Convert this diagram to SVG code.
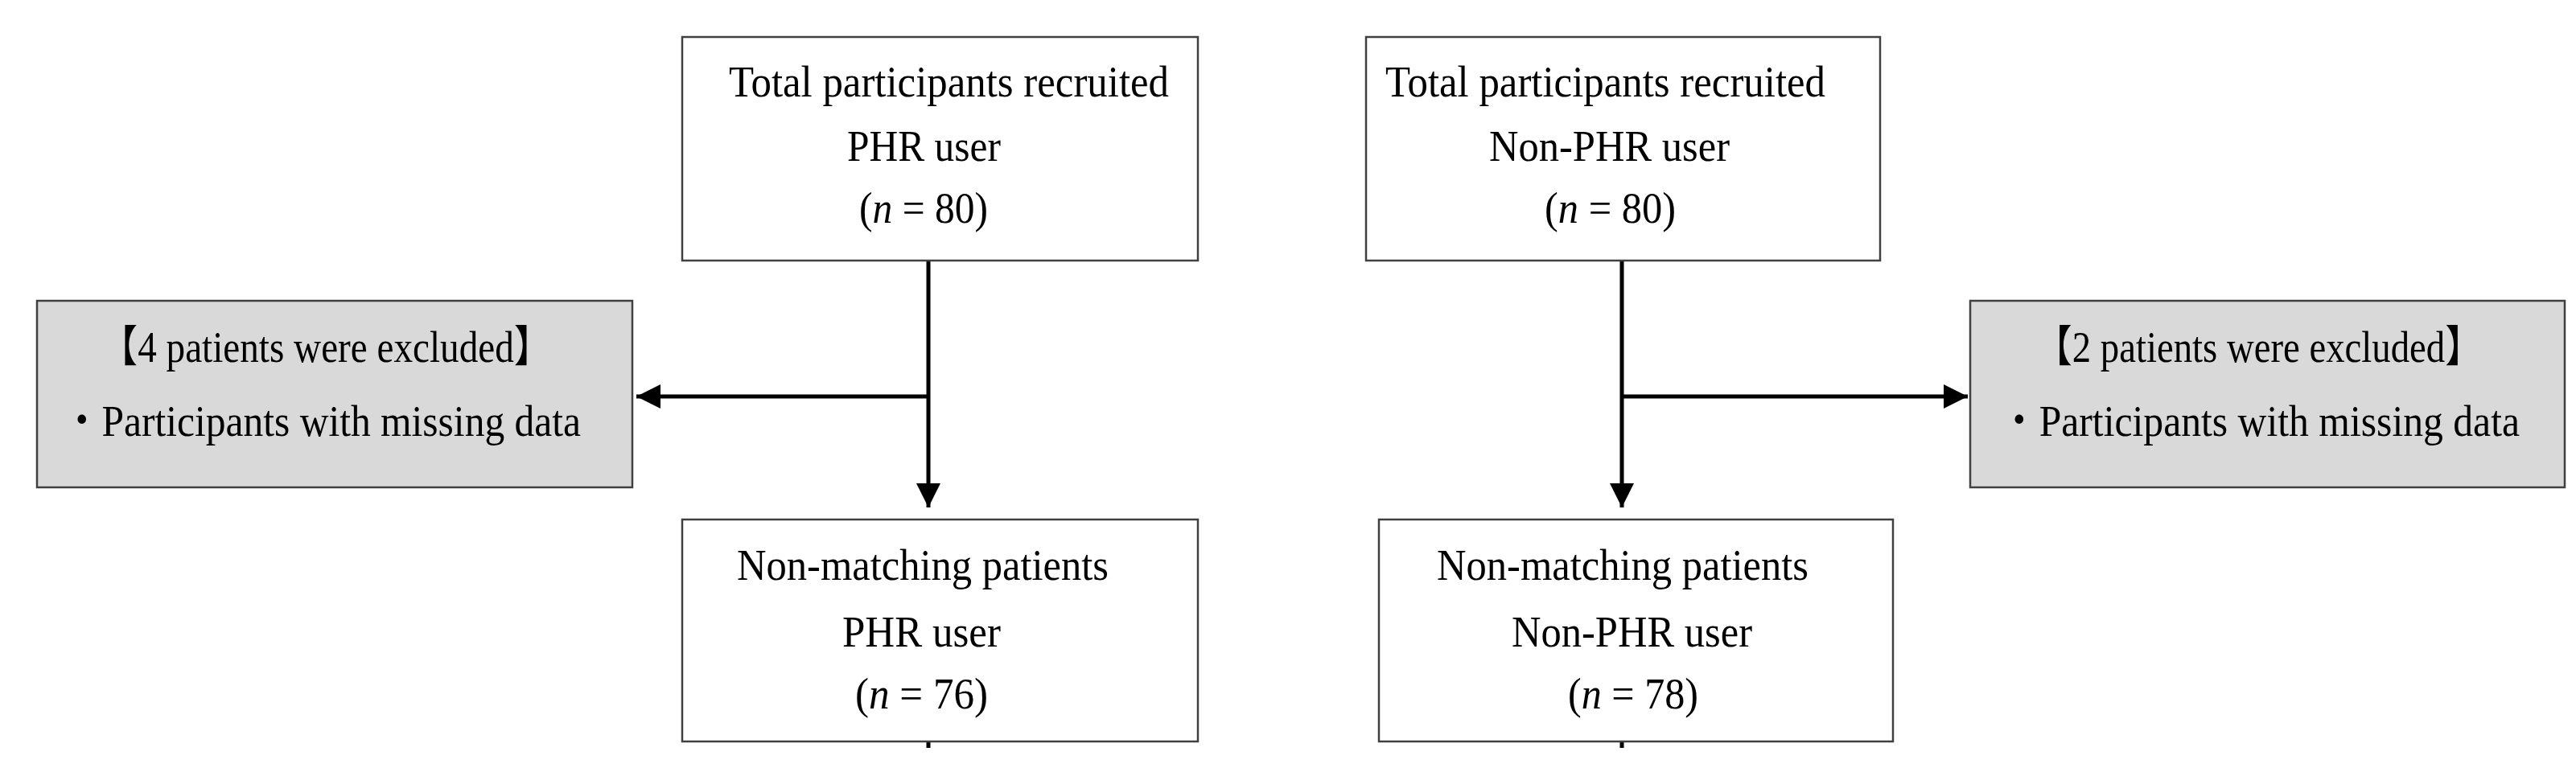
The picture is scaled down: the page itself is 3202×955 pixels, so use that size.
<svg xmlns="http://www.w3.org/2000/svg" width="3202" height="955" viewBox="0 0 3202 955">
<style>
.box{fill:#fff;stroke:#404040;stroke-width:2.5}
.ex{fill:#d9d9d9;stroke:#404040;stroke-width:2.5}
text{font-family:"Liberation Serif","Noto Sans CJK JP",serif;font-size:54px;fill:#000}
.ln{stroke:#000;stroke-width:5;fill:none}
</style>
<defs><marker id="ah" viewBox="0 0 10 10" refX="10" refY="5" markerWidth="5" markerHeight="5" markerUnits="userSpaceOnUse" orient="auto"><path d="M0,0L10,5L0,10z" fill="#000"/></marker></defs>
<defs><marker id="a" viewBox="0 0 10 10" refX="10" refY="5" markerWidth="6" markerHeight="6" orient="auto"><path d="M0,0L10,5L0,10z" fill="#000"/></marker></defs>
<g id="connectors">
<path class="ln" d="M1154,324V631" marker-end="url(#a)"/>
<path class="ln" d="M1154,493H791" marker-end="url(#a)"/>
<path class="ln" d="M1154,922V930"/>
<path class="ln" d="M2016,324V631" marker-end="url(#a)"/>
<path class="ln" d="M2016,493H2446" marker-end="url(#a)"/>
<path class="ln" d="M2016,922V930"/>
</g>
<g id="n1"><rect class="box" x="848" y="46" width="641" height="278"/>
<text x="906" y="120" textLength="547" lengthAdjust="spacingAndGlyphs">Total participants recruited</text>
<text x="1053" y="200" textLength="191" lengthAdjust="spacingAndGlyphs">PHR user</text>
<text x="1068" y="277" textLength="160" lengthAdjust="spacingAndGlyphs">(<tspan font-style="italic">n</tspan> = 80)</text></g>
<g id="e1"><rect class="ex" x="46" y="374" width="740" height="232"/>
<text x="124" y="450" textLength="562" lengthAdjust="spacingAndGlyphs">【4 patients were excluded】</text>
<text x="77" y="542" textLength="645" lengthAdjust="spacingAndGlyphs">・Participants with missing data</text></g>
<g id="n2"><rect class="box" x="848" y="646" width="641" height="276"/>
<text x="916" y="721" textLength="462" lengthAdjust="spacingAndGlyphs">Non-matching patients</text>
<text x="1047" y="804" textLength="197" lengthAdjust="spacingAndGlyphs">PHR user</text>
<text x="1063" y="881" textLength="165" lengthAdjust="spacingAndGlyphs">(<tspan font-style="italic">n</tspan> = 76)</text></g>
<g id="n3"><rect class="box" x="1698" y="46" width="639" height="278"/>
<text x="1722" y="120" textLength="547" lengthAdjust="spacingAndGlyphs">Total participants recruited</text>
<text x="1851" y="200" textLength="299" lengthAdjust="spacingAndGlyphs">Non-PHR user</text>
<text x="1920" y="277" textLength="163" lengthAdjust="spacingAndGlyphs">(<tspan font-style="italic">n</tspan> = 80)</text></g>
<g id="e2"><rect class="ex" x="2449" y="374" width="739" height="232"/>
<text x="2529" y="450" textLength="557" lengthAdjust="spacingAndGlyphs">【2 patients were excluded】</text>
<text x="2485" y="542" textLength="647" lengthAdjust="spacingAndGlyphs">・Participants with missing data</text></g>
<g id="n4"><rect class="box" x="1714" y="646" width="639" height="276"/>
<text x="1786" y="721" textLength="462" lengthAdjust="spacingAndGlyphs">Non-matching patients</text>
<text x="1879" y="804" textLength="299" lengthAdjust="spacingAndGlyphs">Non-PHR user</text>
<text x="1949" y="881" textLength="162" lengthAdjust="spacingAndGlyphs">(<tspan font-style="italic">n</tspan> = 78)</text></g>
</svg>
